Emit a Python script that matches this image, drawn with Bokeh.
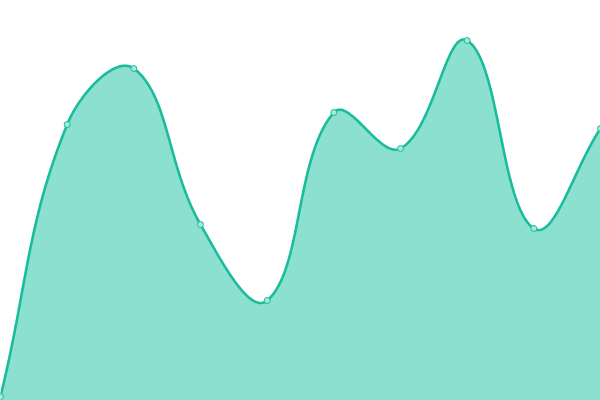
import math
from bokeh.plotting import figure
from bokeh.models import Range1d
from bokeh.embed import file_html
from bokeh.resources import INLINE

# data
labels = ["1", "2", "3", "4", "5", "6", "7", "8", "9", "10"]
values = [1, 69, 83, 44, 25, 72, 63, 90, 43, 68]

W, H = 600, 400
Y_MIN, Y_MAX = 0, 100
N = len(values)
X_MAX = N - 1

LINE = "#1abc9c"
FILL = "#8be0cf"
POINT_FILL = "#a3e8da"

p = figure(width=W, height=H, output_backend="svg", toolbar_location=None,
           x_range=Range1d(0, X_MAX), y_range=Range1d(Y_MIN, Y_MAX),
           min_border=0, background_fill_color="white", border_fill_color="white")
p.axis.visible = False
p.grid.visible = False
p.outline_line_color = None

# pixel-space helpers for the spline tension (as in a tension 0.4 line chart)
def to_px(i, v):
    return (i * W / X_MAX, (v - Y_MIN) * H / (Y_MAX - Y_MIN))

def to_data(px, py):
    return (px * X_MAX / W, Y_MIN + py * (Y_MAX - Y_MIN) / H)

pts = [to_px(i, v) for i, v in enumerate(values)]
t = 0.4
prev_cp, next_cp = [], []
for i, cur in enumerate(pts):
    prv = pts[i - 1] if i > 0 else cur
    nxt = pts[i + 1] if i < N - 1 else cur
    d01 = math.hypot(cur[0] - prv[0], cur[1] - prv[1])
    d12 = math.hypot(nxt[0] - cur[0], nxt[1] - cur[1])
    tot = d01 + d12
    s01 = d01 / tot if tot else 0
    s12 = d12 / tot if tot else 0
    fa, fb = t * s01, t * s12
    pc = (cur[0] - fa * (nxt[0] - prv[0]), cur[1] - fa * (nxt[1] - prv[1]))
    nc = (cur[0] + fb * (nxt[0] - prv[0]), cur[1] + fb * (nxt[1] - prv[1]))
    cap = lambda q: (min(max(q[0], 0), W), min(max(q[1], 0), H))
    prev_cp.append(cap(pc))
    next_cp.append(cap(nc))

cx, cy = [], []
steps = 40
for i in range(N - 1):
    p0, p1, p2, p3 = pts[i], next_cp[i], prev_cp[i + 1], pts[i + 1]
    for k in range(steps + (1 if i == N - 2 else 0)):
        s = k / steps
        a = (1 - s) ** 3
        b = 3 * (1 - s) ** 2 * s
        c = 3 * (1 - s) * s ** 2
        d = s ** 3
        x = a * p0[0] + b * p1[0] + c * p2[0] + d * p3[0]
        y = a * p0[1] + b * p1[1] + c * p2[1] + d * p3[1]
        dx, dy = to_data(x, y)
        cx.append(dx)
        cy.append(dy)

p.patch(cx + [cx[-1], cx[0]], cy + [Y_MIN - 5, Y_MIN - 5],
        fill_color=FILL, line_color=None)
p.line(cx, cy, line_color=LINE, line_width=2.6)
p.scatter(list(range(N)), values, size=6, fill_color=POINT_FILL,
          line_color=LINE, line_width=1)

open("out.html", "w").write(file_html(p, INLINE))
